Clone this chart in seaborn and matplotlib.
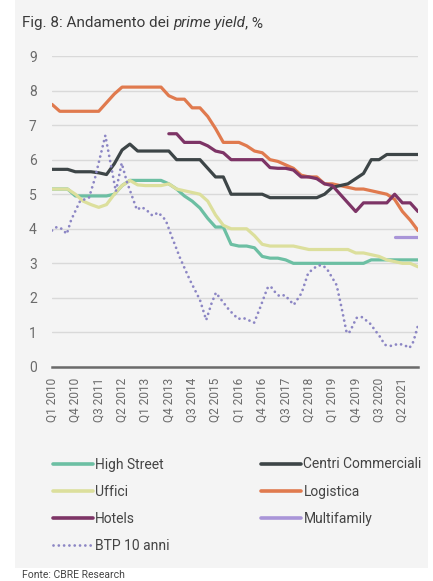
import numpy as np
import pandas as pd
import matplotlib
matplotlib.use("Agg")
import matplotlib.pyplot as plt
import seaborn as sns
from matplotlib.patches import Rectangle
from matplotlib.lines import Line2D

# ---------------- data ----------------
years = list(range(2010, 2022))
quarters = [f"Q{q} {y}" for y in years for q in (1, 2, 3, 4)]   # 48 quarters
tick_every = 3

high_street = [5.15, 5.15, 5.15, 4.95, 4.95, 4.95, 4.95, 4.95, 5.0, 5.25,
               5.4, 5.4, 5.4, 5.4, 5.4, 5.3, 5.15, 4.95, 4.8, 4.6,
               4.3, 4.05, 4.05, 3.55, 3.5, 3.5, 3.45, 3.2, 3.15, 3.15,
               3.1, 3.0, 3.0, 3.0, 3.0, 3.0, 3.0, 3.0, 3.0, 3.0,
               3.0, 3.1, 3.1, 3.1, 3.1, 3.1, 3.1, 3.1]
centri = [5.72, 5.72, 5.72, 5.65, 5.65, 5.65, 5.62, 5.57, 5.88, 6.28,
          6.45, 6.25, 6.25, 6.25, 6.25, 6.25, 6.0, 6.0, 6.0, 6.0,
          5.75, 5.5, 5.5, 5.0, 5.0, 5.0, 5.0, 5.0, 4.9, 4.9,
          4.9, 4.9, 4.9, 4.9, 4.9, 5.0, 5.2, 5.25, 5.3, 5.45,
          5.6, 6.0, 6.0, 6.15, 6.15, 6.15, 6.15, 6.15]
uffici = [5.15, 5.15, 5.15, 5.0, 4.8, 4.7, 4.62, 4.7, 5.0, 5.25,
          5.4, 5.27, 5.25, 5.25, 5.25, 5.3, 5.15, 5.1, 5.05, 5.0,
          4.8, 4.4, 4.1, 4.0, 4.0, 4.0, 3.8, 3.55, 3.5, 3.5,
          3.5, 3.5, 3.45, 3.4, 3.4, 3.4, 3.4, 3.4, 3.4, 3.3,
          3.3, 3.25, 3.2, 3.1, 3.05, 3.0, 3.0, 2.9]
logistica = [7.6, 7.4, 7.4, 7.4, 7.4, 7.4, 7.4, 7.65, 7.9, 8.1,
             8.1, 8.1, 8.1, 8.1, 8.1, 7.85, 7.75, 7.75, 7.5, 7.5,
             7.25, 6.9, 6.5, 6.5, 6.5, 6.4, 6.25, 6.2, 6.0, 5.95,
             5.85, 5.75, 5.55, 5.5, 5.5, 5.3, 5.3, 5.25, 5.2, 5.15,
             5.15, 5.1, 5.05, 5.0, 4.85, 4.5, 4.25, 3.95]
hotels_start = 15
hotels = [6.75, 6.75, 6.5, 6.5, 6.5, 6.4, 6.25, 6.2, 6.0, 6.0,
          6.0, 6.0, 6.0, 5.77, 5.75, 5.75, 5.7, 5.5, 5.5, 5.45,
          5.3, 5.25, 5.0, 4.75, 4.5, 4.75, 4.75, 4.75, 4.75, 5.0,
          4.75, 4.75, 4.5]
multifamily_start = 44
multifamily = [3.75, 3.75, 3.75, 3.75]

# BTP 10 anni: turning points (position in quarters from Q1 2010, value)
btp_pos = [0, 0.6, 1.25, 1.9, 2.45, 3.6, 4.75, 5.5, 6.85, 8.2,
           8.95, 9.6, 10.9, 11.5, 12.15, 12.9, 13.65, 14.6, 15.3, 16.45,
           17.7, 19.0, 19.8, 20.5, 21.05, 21.55, 22.75, 23.9, 24.55, 25.2,
           25.95, 26.7, 27.65, 28.05, 28.6, 29.2, 29.9, 31.05, 32.05, 32.9,
           34.0, 34.6, 35.25, 36.55, 37.2, 37.85, 38.25, 39.1, 39.75, 40.8,
           42.1, 42.75, 43.6, 44.45, 45.2, 45.9, 46.4, 47.0]
btp_val = [3.95, 4.05, 4.0, 3.85, 4.25, 4.8, 4.9, 5.45, 6.7, 5.08,
           5.9, 5.37, 4.55, 4.63, 4.54, 4.38, 4.47, 4.25, 3.82, 3.15,
           2.52, 1.94, 1.36, 1.85, 2.15, 2.0, 1.65, 1.39, 1.42, 1.36,
           1.28, 1.7, 2.28, 2.34, 2.18, 2.05, 2.08, 1.8, 2.14, 2.72,
           2.92, 2.95, 2.86, 2.37, 1.7, 0.98, 1.02, 1.42, 1.45, 1.27,
           0.88, 0.64, 0.61, 0.67, 0.64, 0.55, 0.73, 1.2]

colors = {"High Street": "#6cbfa3", "Centri Commerciali": "#3d4547",
          "Uffici": "#dcdf9c", "Logistica": "#e07a4e",
          "Hotels": "#7d3466", "Multifamily": "#a995d8",
          "BTP 10 anni": "#8c86c4"}

# ---------------- figure ----------------
sns.set_theme(style="white")
plt.rcParams['font.family'] = ['Roboto', 'DejaVu Sans']

W, H = 433, 581
fig = plt.figure(figsize=(W / 100, H / 100), dpi=100, facecolor="white")
fig.patches.append(Rectangle((15 / W, 1 - 568 / H), (428 - 15) / W, 568 / H,
                             transform=fig.transFigure, facecolor="#f4f4f4",
                             edgecolor="none", zorder=-10))

ax = fig.add_axes([52 / W, 1 - 367 / H, (418 - 52) / W, (367 - 56) / H])
ax.set_facecolor("none")
ax.set_zorder(5)

idx = np.arange(len(quarters))
lw = 2.3
sns.lineplot(x=idx, y=logistica, ax=ax, color=colors["Logistica"], linewidth=lw, legend=False)
sns.lineplot(x=idx, y=high_street, ax=ax, color=colors["High Street"], linewidth=lw, legend=False)
sns.lineplot(x=idx, y=uffici, ax=ax, color=colors["Uffici"], linewidth=lw, legend=False)
sns.lineplot(x=idx, y=centri, ax=ax, color=colors["Centri Commerciali"], linewidth=lw, legend=False)
sns.lineplot(x=idx[hotels_start:hotels_start + len(hotels)], y=hotels, ax=ax,
             color=colors["Hotels"], linewidth=lw, legend=False)
sns.lineplot(x=idx[multifamily_start:multifamily_start + len(multifamily)], y=multifamily,
             ax=ax, color=colors["Multifamily"], linewidth=lw, legend=False)
sns.lineplot(x=btp_pos, y=btp_val, ax=ax, color=colors["BTP 10 anni"], linewidth=2.0,
             linestyle=(0, (0.01, 1.9)), dash_capstyle="round", legend=False, sort=False)

ax.set_xlim(0, len(quarters) - 1)
ax.set_ylim(0, 9)
ax.set_yticks(range(0, 10))
ax.set_xticks(idx[::tick_every])
ax.set_xticklabels(quarters[::tick_every], rotation=90)
ax.tick_params(axis="y", length=0, pad=11, labelsize=10, labelcolor="#6b6b6b")
ax.tick_params(axis="x", length=0, pad=8, labelsize=8.6, labelcolor="#6b6b6b")
ax.grid(axis="y", color="#d9d9d9", linewidth=1.0)
ax.grid(axis="x", visible=False)
for s in ["top", "right", "left"]:
    ax.spines[s].set_visible(False)
ax.spines["bottom"].set_color("#6a6a6a")
ax.spines["bottom"].set_linewidth(1.8)
ax.set_xlabel("")
ax.set_ylabel("")
ax.set_axisbelow(True)

# ---------------- legend ----------------
def handle(name):
    if name == "BTP 10 anni":
        return Line2D([], [], color=colors[name], linewidth=2.0,
                      linestyle=(0, (0.01, 1.9)), dash_capstyle="round")
    return Line2D([], [], color=colors[name], linewidth=2.6)

order = ["High Street", "Uffici", "Hotels", "BTP 10 anni",
         "Centri Commerciali", "Logistica", "Multifamily"]
leg = fig.legend([handle(n) for n in order], order, ncol=2,
                 loc="upper left", bbox_to_anchor=(40 / W, 1 - 445 / H),
                 frameon=False, fontsize=10, handlelength=2.9,
                 handletextpad=0.15, labelspacing=0.95, columnspacing=6.6,
                 labelcolor="#444444")

# ---------------- title ----------------
fig.canvas.draw()
r = fig.canvas.get_renderer()
x0 = 22 / W
ty = 1 - 27 / H
parts = [("Fig. 8: Andamento dei ", "normal"), ("prime yield", "italic"), (", %", "normal")]
for txt, st in parts:
    t = fig.text(x0, ty, txt, fontsize=11, style=st, color="#3a3a3a", ha="left", va="baseline")
    bb = t.get_window_extent(renderer=r)
    x0 += bb.width / W

fig.text(22 / W, 1 - 578 / H, "Fonte: CBRE Research", fontsize=7.5, color="#444444",
         ha="left", va="baseline")

fig.savefig("out.png", dpi=100, facecolor=fig.get_facecolor())
